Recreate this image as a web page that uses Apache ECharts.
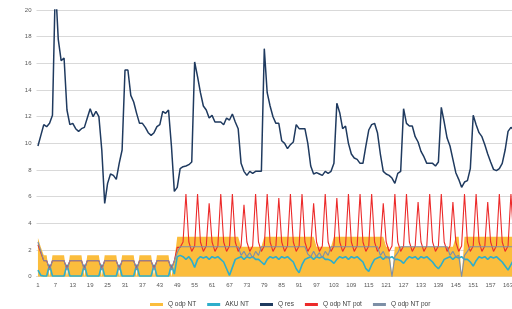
<!DOCTYPE html>
<html>
<head>
<meta charset="utf-8">
<script src="https://cdn.jsdelivr.net/npm/echarts@6/dist/echarts.min.js"></script>
<style>
  html, body { margin: 0; padding: 0; background: #fff; overflow: hidden; }
  #chart { width: 524px; height: 309px; }
</style>
</head>
<body>
<div id="chart"></div>
<script>
// hours 1..168
const hours = Array.from({ length: 168 }, (_, i) => String(i + 1))

// Q odp NT (orange area)
const qOdpNT = [
  2.9, 2.2, 1.6, 1.6, 0, 1.6, 1.6, 1.6, 1.6, 1.6, 0, 1.6,
  1.6, 1.6, 1.6, 1.6, 0, 1.6, 1.6, 1.6, 1.6, 1.6, 0, 1.6,
  1.6, 1.6, 1.6, 1.6, 0, 1.6, 1.6, 1.6, 1.6, 1.6, 0, 1.6,
  1.6, 1.6, 1.6, 1.6, 0, 1.6, 1.6, 1.6, 1.6, 1.6, 0, 1.2,
  3.0, 3.0, 3.0, 3.0, 3.0, 3.0, 3.0, 3.0, 3.0, 3.0, 3.0, 3.0,
  3.0, 3.0, 3.0, 3.0, 3.0, 3.0, 3.0, 3.0, 3.0, 3.0, 2.25, 2.25,
  2.25, 2.25, 2.25, 2.25, 2.25, 2.25, 3.0, 3.0, 3.0, 3.0, 3.0, 3.0,
  3.0, 3.0, 3.0, 3.0, 3.0, 3.0, 3.0, 3.0, 3.0, 3.0, 3.0, 3.0,
  2.25, 2.25, 2.25, 2.25, 2.25, 2.25, 3.0, 3.0, 3.0, 3.0, 3.0, 3.0,
  3.0, 3.0, 3.0, 3.0, 3.0, 3.0, 3.0, 3.0, 3.0, 3.0, 3.0, 3.0,
  2.25, 2.25, 0, 2.25, 2.25, 2.25, 2.25, 2.25, 2.25, 2.25, 2.25, 2.25,
  2.25, 2.25, 2.25, 2.25, 2.25, 2.25, 2.25, 2.25, 2.25, 2.25, 2.25, 2.25,
  3.0, 3.0, 0, 3.0, 3.0, 3.0, 3.0, 3.0, 3.0, 3.0, 3.0, 3.0,
  3.0, 3.0, 3.0, 3.0, 3.0, 3.0, 3.0, 3.0, 3.0, 3.0, 3.0, 3.0
]

// AKU NT (cyan)
const akuNT = [
  0.5, 0.1, 0.05, 0.05, 0.9, 0.05, 0.05, 0.05, 0.05, 0.05, 0.9, 0.05,
  0.05, 0.05, 0.05, 0.05, 0.9, 0.05, 0.05, 0.05, 0.05, 0.05, 0.9, 0.05,
  0.05, 0.05, 0.05, 0.05, 0.9, 0.05, 0.05, 0.05, 0.05, 0.05, 0.9, 0.05,
  0.05, 0.05, 0.05, 0.05, 0.9, 0.05, 0.05, 0.05, 0.05, 0.05, 0.9, 0.2,
  1.5, 1.6, 1.5, 1.3, 1.5, 1.2, 0.7, 1.3, 1.5, 1.4, 1.5, 1.3,
  1.5, 1.4, 1.5, 1.3, 1.1, 0.6, 0.1, 0.7, 1.3, 1.4, 1.5, 1.3,
  1.5, 1.4, 1.5, 1.3, 1.3, 1.1, 0.9, 1.3, 1.5, 1.4, 1.5, 1.3,
  1.5, 1.4, 1.5, 1.3, 1.1, 0.6, 0.3, 0.9, 1.3, 1.4, 1.5, 1.3,
  1.5, 1.4, 1.5, 1.3, 1.3, 1.2, 1.0, 1.3, 1.5, 1.4, 1.5, 1.3,
  1.5, 1.4, 1.5, 1.3, 1.1, 0.6, 0.4, 0.9, 1.3, 1.4, 1.5, 1.3,
  1.5, 1.4, 1.5, 1.3, 1.3, 1.2, 1.0, 1.3, 1.5, 1.4, 1.5, 1.3,
  1.5, 1.4, 1.5, 1.3, 1.1, 0.8, 0.6, 0.9, 1.3, 1.4, 1.5, 1.3,
  1.5, 1.4, 1.5, 1.3, 1.3, 1.1, 0.8, 1.2, 1.5, 1.4, 1.5, 1.3,
  1.5, 1.4, 1.5, 1.3, 1.1, 0.8, 0.5, 0.9, 1.3, 1.4, 1.5, 1.3
]

// Q res (navy)
const qRes = [
  9.8, 10.6, 11.4, 11.25, 11.5, 12.1, 22.0, 17.8, 16.2, 16.4, 12.5, 11.4,
  11.5, 11.1, 10.9, 11.1, 11.2, 11.9, 12.6, 12.0, 12.4, 12.0, 9.5, 5.5,
  7.0, 7.7, 7.6, 7.3, 8.5, 9.5, 15.5, 15.5, 13.6, 13.1, 12.25, 11.5,
  11.5, 11.2, 10.8, 10.6, 10.8, 11.25, 11.4, 12.4, 12.25, 12.5, 9.8, 6.4,
  6.7, 8.1, 8.25, 8.3, 8.4, 8.6, 16.1, 15.0, 13.8, 12.8, 12.5, 11.9,
  12.1, 11.6, 11.6, 11.6, 11.4, 11.9, 11.75, 12.2, 11.6, 11.1, 8.5, 7.9,
  7.6, 7.9, 7.75, 7.9, 7.9, 7.9, 17.1, 13.8, 12.8, 12.0, 11.5, 11.5,
  10.2, 10.0, 9.6, 9.9, 10.1, 11.4, 11.1, 11.1, 11.1, 10.0, 8.3, 7.7,
  7.8, 7.7, 7.6, 7.9, 7.75, 7.9, 8.5, 13.0, 12.3, 11.1, 11.3, 10.0,
  9.2, 8.9, 8.8, 8.5, 8.5, 9.8, 11.0, 11.4, 11.5, 10.8, 9.2, 7.9,
  7.7, 7.6, 7.4, 7.0, 7.75, 7.9, 12.6, 11.5, 11.3, 11.3, 10.5, 10.1,
  9.4, 9.0, 8.5, 8.5, 8.5, 8.3, 8.6, 12.7, 11.6, 10.4, 9.8, 8.8,
  7.8, 7.3, 6.7, 7.1, 7.2, 8.1, 12.1, 11.4, 10.8, 10.5, 9.9, 9.2,
  8.6, 8.05, 7.95, 8.1, 8.5, 9.5, 10.9, 11.2, 11.0, 10.8, 10.5, 10.2
]

// Q odp NT pot (red)
const qOdpNTPot = [
  2.4, 1.8, 1.2, 1.2, 0.6, 1.2, 1.2, 1.2, 1.2, 1.2, 0.6, 1.2,
  1.2, 1.2, 1.2, 1.2, 0.6, 1.2, 1.2, 1.2, 1.2, 1.2, 0.6, 1.2,
  1.2, 1.2, 1.2, 1.2, 0.6, 1.2, 1.2, 1.2, 1.2, 1.2, 0.6, 1.2,
  1.2, 1.2, 1.2, 1.2, 0.6, 1.2, 1.2, 1.2, 1.2, 1.2, 0.6, 1.2,
  2.2, 2.2, 2.6, 6.2, 2.6, 1.9, 2.3, 6.2, 2.6, 1.9, 2.3, 5.5,
  2.6, 1.9, 2.3, 6.2, 2.6, 1.9, 2.3, 6.2, 2.6, 1.9, 2.3, 5.4,
  2.6, 1.9, 2.3, 6.2, 2.6, 1.9, 2.3, 6.2, 2.6, 1.9, 2.3, 5.9,
  2.6, 1.9, 2.3, 6.2, 2.6, 1.9, 2.3, 6.2, 2.6, 1.9, 2.3, 5.5,
  2.6, 1.9, 2.3, 6.2, 2.6, 1.9, 2.3, 5.9, 2.6, 1.9, 2.3, 6.2,
  2.6, 1.9, 2.3, 6.2, 2.6, 1.9, 2.3, 6.2, 2.6, 1.9, 2.3, 5.5,
  2.6, 1.9, 2.3, 6.2, 2.6, 1.9, 2.3, 6.2, 2.6, 1.9, 2.3, 5.6,
  2.6, 1.9, 2.3, 6.2, 2.6, 1.9, 2.3, 6.2, 2.6, 1.9, 2.3, 5.6,
  2.6, 1.9, 2.3, 6.2, 2.6, 1.9, 2.3, 6.2, 2.6, 1.9, 2.3, 5.6,
  2.6, 1.9, 2.3, 6.2, 2.6, 1.9, 2.3, 6.2, 2.6, 1.9, 2.3, 6.2
]

// Q odp NT por (grey-blue)
const qOdpNTPor = [
  2.6, 1.9, 1.2, 1.2, 0.5, 1.2, 1.2, 1.2, 1.2, 1.2, 0.5, 1.2,
  1.2, 1.2, 1.2, 1.2, 0.5, 1.2, 1.2, 1.2, 1.2, 1.2, 0.5, 1.2,
  1.2, 1.2, 1.2, 1.2, 0.5, 1.2, 1.2, 1.2, 1.2, 1.2, 0.5, 1.2,
  1.2, 1.2, 1.2, 1.2, 0.5, 1.2, 1.2, 1.2, 1.2, 1.2, 0.5, 1.2,
  1.8, 2.25, 2.25, 2.25, 2.25, 2.25, 2.25, 2.25, 2.25, 2.25, 2.25, 2.25,
  2.25, 2.25, 2.25, 2.25, 2.25, 2.25, 2.25, 2.25, 2.25, 2.25, 1.6, 1.9,
  1.5, 1.8, 1.4, 1.9, 1.6, 2.25, 2.25, 2.25, 2.25, 2.25, 2.25, 2.25,
  2.25, 2.25, 2.25, 2.25, 2.25, 2.25, 2.25, 2.25, 2.25, 1.7, 1.5, 1.9,
  1.5, 1.8, 1.4, 1.9, 1.6, 2.25, 2.25, 2.25, 2.25, 2.25, 2.25, 2.25,
  2.25, 2.25, 2.25, 2.25, 2.25, 2.25, 2.25, 2.25, 2.25, 2.25, 1.6, 1.9,
  1.4, 1.5, 0, 1.5, 1.8, 2.25, 2.25, 2.25, 2.25, 2.25, 2.25, 2.25,
  2.25, 2.25, 2.25, 2.25, 2.25, 2.25, 2.25, 2.25, 2.25, 2.25, 1.6, 1.9,
  1.5, 1.6, 0, 1.6, 1.9, 2.25, 2.25, 2.25, 2.25, 2.25, 2.25, 2.25,
  2.25, 2.25, 2.25, 2.25, 2.25, 2.25, 2.25, 2.25, 2.25, 2.25, 2.25, 2.25
]

const chart = echarts.init(document.getElementById('chart'))

const lineSeries = (name, data, color, width) => ({
  name,
  type: 'line',
  data,
  symbol: 'none',
  lineStyle: { color, width },
  itemStyle: { color }
})

chart.setOption({
  animation: false,
  textStyle: { fontFamily: 'Liberation Sans Narrow, Liberation Sans, sans-serif' },
  grid: { left: 36.5, right: 0, top: 10, bottom: 32.3 },
  legend: {
    left: 145,
    top: 296,
    icon: 'rect',
    itemWidth: 13,
    itemHeight: 3,
    itemGap: 11,
    textStyle: { fontSize: 6.5, color: '#404040' },
    data: ['Q odp NT', 'AKU NT', 'Q res', 'Q odp NT pot', 'Q odp NT por']
  },
  xAxis: {
    type: 'category',
    data: hours,
    boundaryGap: true,
    axisTick: { show: false },
    axisLine: { lineStyle: { color: '#d9d9d9' } },
    axisLabel: { interval: 5, fontSize: 6, color: '#595959', margin: 6 }
  },
  yAxis: {
    type: 'value',
    min: 0,
    max: 20,
    interval: 2,
    axisLine: { show: false },
    axisTick: { show: false },
    axisLabel: { fontSize: 6, color: '#595959', margin: 5 },
    splitLine: { lineStyle: { color: '#d9d9d9', width: 1 } }
  },
  series: [
    {
      name: 'Q odp NT',
      type: 'line',
      data: qOdpNT,
      symbol: 'none',
      lineStyle: { width: 0 },
      itemStyle: { color: '#fbbd3c' },
      areaStyle: { color: '#fbbd3c', opacity: 1 }
    },
    lineSeries('AKU NT', akuNT, '#2eaecb', 1.6),
    lineSeries('Q res', qRes, '#1f3a5f', 1.5),
    lineSeries('Q odp NT pot', qOdpNTPot, '#ec2a2a', 1.1),
    lineSeries('Q odp NT por', qOdpNTPor, '#7d8fa6', 1.1)
  ]
})
</script>
</body>
</html>
